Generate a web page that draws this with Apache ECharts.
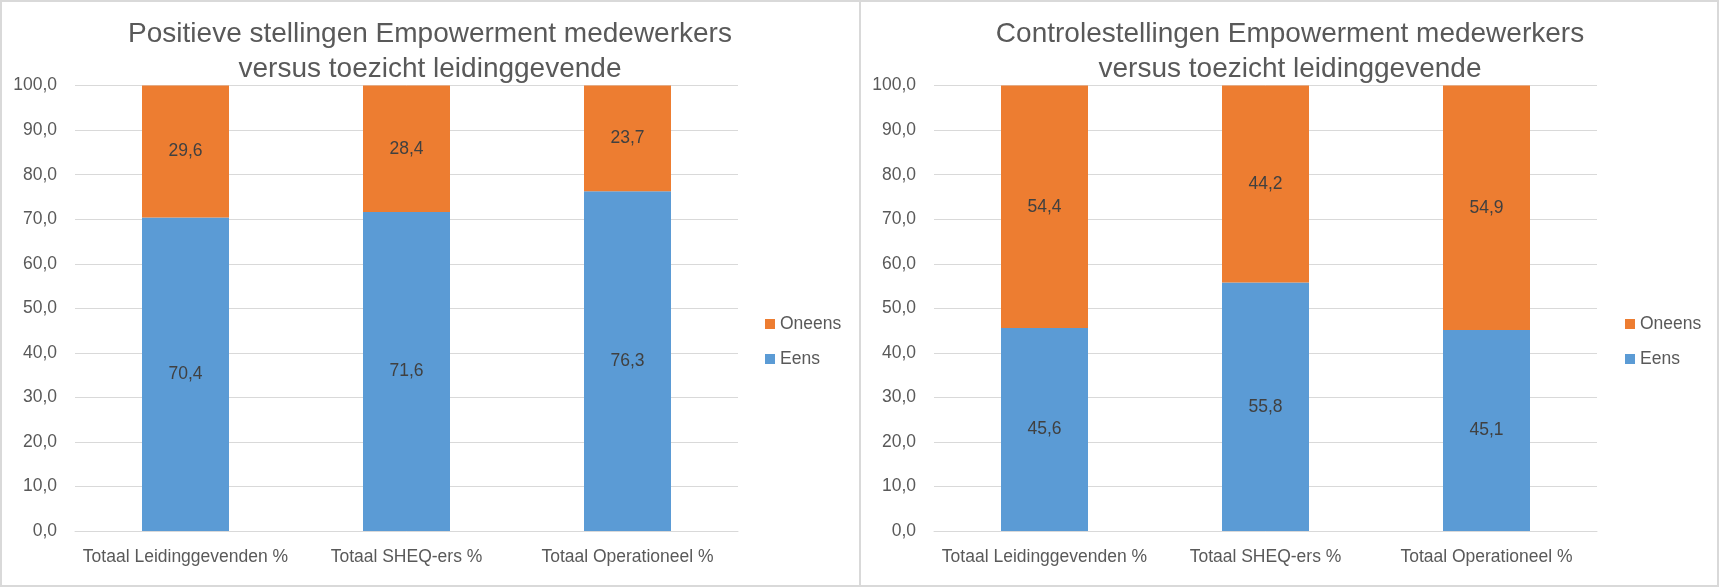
<!DOCTYPE html>
<html>
<head>
<meta charset="utf-8">
<script src="https://cdn.jsdelivr.net/npm/echarts@6/dist/echarts.min.js"></script>
<style>
  html, body { margin: 0; padding: 0; background: #ffffff; width: 1720px; height: 588px; overflow: hidden; }
  .chart { position: absolute; top: 0; width: 860px; height: 588px; }
  .frame { position: absolute; box-sizing: border-box; border: 2px solid #d9d9d9; pointer-events: none; }
</style>
</head>
<body>
<div id="c1" class="chart" style="left:0px"></div>
<div id="c2" class="chart" style="left:860px"></div>
<div class="frame" style="left:0px;top:0px;width:861px;height:587px"></div>
<div class="frame" style="left:859px;top:0px;width:860px;height:587px"></div>
<script>
const categories = ['Totaal Leidinggevenden %', 'Totaal SHEQ-ers %', 'Totaal Operationeel %'];
const seriesNames = ['Eens', 'Oneens'];
const title1 = 'Positieve stellingen Empowerment medewerkers\nversus toezicht leidinggevende';
const title2 = 'Controlestellingen Empowerment medewerkers\nversus toezicht leidinggevende';
const eens1 = [70.4, 71.6, 76.3];
const oneens1 = [29.6, 28.4, 23.7];
const eens2 = [45.6, 55.8, 45.1];
const oneens2 = [54.4, 44.2, 54.9];

const FONT = '"Liberation Sans", Arial, sans-serif';
const fmt = v => Number(v).toFixed(1).replace('.', ',');

function makeOption(title, eens, oneens, gridLeft, gridRight) {
  const barStyle = (color) => ({
    type: 'bar',
    stack: 'total',
    barWidth: 87,
    itemStyle: { color: color },
    label: {
      show: true,
      position: 'inside',
      color: '#404040',
      fontFamily: FONT,
      fontSize: 17.5,
      formatter: p => fmt(p.value)
    }
  });
  return {
    animation: false,
    title: {
      text: title,
      left: 'center',
      top: 12,
      textStyle: { fontFamily: FONT, fontSize: 28, fontWeight: 'normal', color: '#595959', lineHeight: 35 }
    },
    legend: {
      orient: 'vertical',
      left: 760,
      top: 309,
      itemWidth: 10,
      itemHeight: 10,
      itemGap: 15,
      icon: 'rect',
      data: ['Oneens', 'Eens'],
      textStyle: { fontFamily: FONT, fontSize: 17.5, color: '#595959', lineHeight: 20, padding: [0, 0, 0, 0] }
    },
    grid: { left: gridLeft, right: gridRight, top: 85.6, bottom: 57 },
    xAxis: {
      type: 'category',
      data: categories,
      axisTick: { show: false },
      axisLine: { lineStyle: { color: '#d9d9d9', width: 1 } },
      axisLabel: { color: '#595959', fontFamily: FONT, fontSize: 17.5, margin: 17, interval: 0 }
    },
    yAxis: {
      type: 'value',
      min: 0,
      max: 100,
      interval: 10,
      axisLine: { show: false },
      axisTick: { show: false },
      splitLine: { lineStyle: { color: '#d9d9d9', width: 1 } },
      axisLabel: { color: '#595959', fontFamily: FONT, fontSize: 17.5, margin: 18, formatter: v => fmt(v) }
    },
    series: [
      Object.assign(barStyle('#5B9BD5'), { name: seriesNames[0], data: eens }),
      Object.assign(barStyle('#ED7D31'), { name: seriesNames[1], data: oneens })
    ]
  };
}

const ch1 = echarts.init(document.getElementById('c1'), null, { renderer: 'canvas' });
ch1.setOption(makeOption(title1, eens1, oneens1, 75, 122));
const ch2 = echarts.init(document.getElementById('c2'), null, { renderer: 'canvas' });
ch2.setOption(makeOption(title2, eens2, oneens2, 74, 123));
</script>
</body>
</html>
